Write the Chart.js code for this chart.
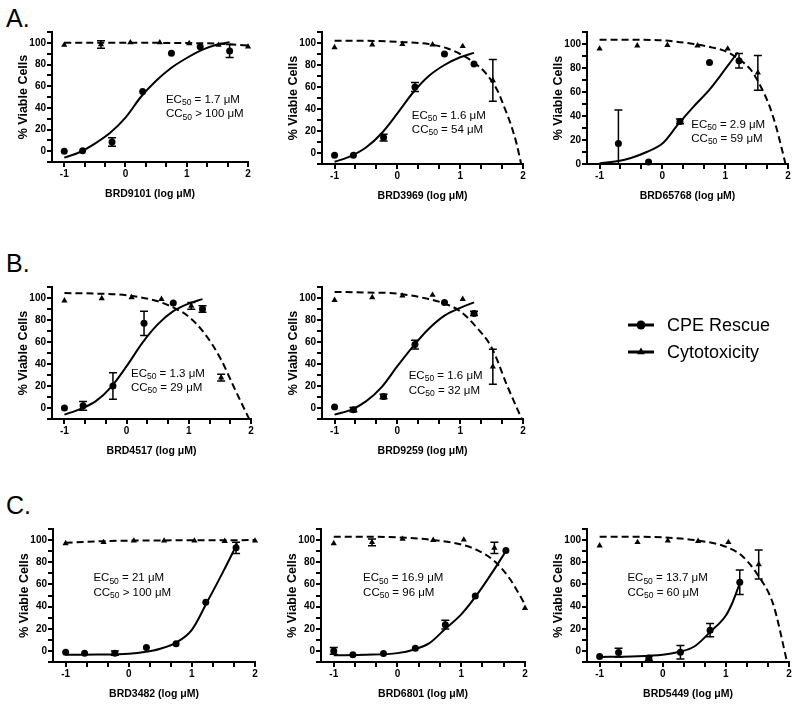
<!DOCTYPE html>
<html>
<head>
<meta charset="utf-8">
<script src="https://cdn.jsdelivr.net/npm/chart.js@4.4.1/dist/chart.umd.min.js"></script>
<style>
	body { margin: 0; background: #fff; }
	#page { position: relative; width: 800px; height: 704px; overflow: hidden; }
	#page canvas { position: absolute; }
	.tag { position: absolute; font: 25px "Liberation Sans", Arial, sans-serif; line-height: 1; color: #000; }
</style>
</head>
<body>
<div id="page">
	<div class="tag" style="left:6px;top:6px">A.</div>
	<div class="tag" style="left:6px;top:251px">B.</div>
	<div class="tag" style="left:6px;top:493px">C.</div>
</div>
<script>
var FONT = '"Liberation Sans", Arial, sans-serif';
var seriesNames = ['CPE Rescue', 'Cytotoxicity'];

// log concentrations of the two dilution series
var xCpe = [-1, -0.7, -0.22, 0.28, 0.75, 1.22, 1.7];
var xTox = [-1, -0.4, 0.08, 0.56, 1.04, 1.52, 2];
var xTicks = [-1, -0.667, -0.333, 0, 0.333, 0.667, 1, 1.333, 1.667, 2];
var yTicks = [-10, 0, 10, 20, 30, 40, 50, 60, 70, 80, 90, 100, 110];

// BRD9101
var brd9101Cpe = [0, 0.5, 8.5, 55, 90.5, 96.5, 92.5];
var brd9101CpeErr = [0, 0, 4, 0, 0, 0, 6];
var brd9101Tox = [98, 98.5, 100.3, 100.3, 99.5, 98, 96.5];
var brd9101ToxErr = [0, 3.5, 0, 0, 0, 0, 0];
var brd9101FitX = [-1, -0.75, -0.5, -0.25, 0, 0.25, 0.5, 0.75, 1, 1.25, 1.5, 1.7];
var brd9101Fit = [-6, -1, 7, 17, 31, 50, 65, 77, 86, 93.5, 98.5, 100.5];
var brd9101ToxFitX = [-1, 0, 1, 1.5, 2];
var brd9101ToxFit = [100, 100, 99.8, 99.2, 97.5];

// BRD3969
var brd3969Cpe = [-2, -2, 14, 60, 90, 81, null];
var brd3969CpeErr = [0, 0, 3, 4, 0, 0, 0];
var brd3969Tox = [96, 98.5, 99, 98.5, 97, 66, null];
var brd3969ToxErr = [0, 0, 0, 0, 0, 19, 0];
var brd3969FitX = [-1, -0.75, -0.5, -0.25, 0, 0.25, 0.5, 0.75, 1, 1.22];
var brd3969Fit = [-8, -3, 5, 18, 36, 55, 70, 80, 87, 91];
var brd3969ToxFitX = [-1, -0.5, 0, 0.5, 0.8, 1, 1.2, 1.4, 1.6, 1.7, 1.8, 1.9, 1.97];
var brd3969ToxFit = [102, 102, 101, 99, 95, 90, 83, 73, 56, 42, 27, 8, -10];

// BRD65768
var brd65768Cpe = [null, 17, 1.6, 35.5, 84.6, 86, null];
var brd65768CpeErr = [0, 28, 0, 2, 0, 6, 0];
var brd65768Tox = [96, 98.6, 99, 98.6, 96, 76, null];
var brd65768ToxErr = [0, 0, 0, 0, 0, 14.5, 0];
var brd65768FitX = [-1, -0.75, -0.5, -0.25, 0, 0.25, 0.5, 0.75, 1, 1.2];
var brd65768Fit = [0.5, 2, 5, 10, 17, 33, 48, 62, 79, 93];
var brd65768ToxFitX = [-1, -0.5, 0, 0.5, 0.8, 1, 1.2, 1.4, 1.5, 1.6, 1.7, 1.8, 1.9, 1.96];
var brd65768ToxFit = [103.5, 103.5, 103, 100, 97, 94, 88, 79, 71, 61, 49, 33, 13, 0];

// BRD4517
var brd4517Cpe = [0, 2, 20, 77, 95.5, 90, null];
var brd4517CpeErr = [0, 4, 12, 11, 0, 3, 0];
var brd4517Tox = [97.6, 99.7, 100.6, 99, 92.8, 27.6, null];
var brd4517ToxErr = [0, 0, 0, 0, 3, 3, 0];
var brd4517FitX = [-1, -0.75, -0.5, -0.25, 0, 0.25, 0.5, 0.75, 1, 1.22];
var brd4517Fit = [-6, -1, 6, 19, 38, 59, 76, 88, 95, 99];
var brd4517ToxFitX = [-1, -0.5, 0, 0.5, 0.8, 1, 1.25, 1.5, 1.75, 1.97];
var brd4517ToxFit = [104.5, 104, 102.5, 97, 90, 83, 68, 46, 16, -10];

// BRD9259
var brd9259Cpe = [1, -1.5, 10.5, 57.7, 96, 86, null];
var brd9259CpeErr = [0, 2, 2, 4, 0, 2, 0];
var brd9259Tox = [98, 100.6, 102, 102.7, 99, 37.5, null];
var brd9259ToxErr = [0, 0, 0, 0, 0, 16, 0];
var brd9259FitX = [-1, -0.75, -0.5, -0.25, 0, 0.25, 0.5, 0.75, 1, 1.22];
var brd9259Fit = [-6, -2, 6, 19, 38, 56, 72, 84, 91, 96];
var brd9259ToxFitX = [-1, -0.5, 0, 0.5, 0.75, 1, 1.25, 1.5, 1.75, 1.98];
var brd9259ToxFit = [105.5, 105, 104, 99, 95, 88, 74, 55, 20, -10];

// BRD3482
var brd3482Cpe = [-1.2, -2, -2, 3, 6.5, 44, 93];
var brd3482CpeErr = [0, 0, 2, 0, 0, 0, 5];
var brd3482Tox = [97, 98, 99.4, 99.4, 99.4, 99, 99.4];
var brd3482ToxErr = [0, 0, 0, 0, 0, 0, 0];
var brd3482FitX = [-1, -0.5, 0, 0.25, 0.5, 0.75, 1, 1.25, 1.5, 1.72];
var brd3482Fit = [-3.5, -3.3, -2.5, -1, 2, 7.5, 19, 45, 72, 97];
var brd3482ToxFitX = [-1, -0.5, 0, 1, 2];
var brd3482ToxFit = [97.5, 98.8, 99.5, 99.8, 100];

// BRD6801
var brd6801Cpe = [0, -3.5, -2.4, 2.4, 23.7, 49.5, 90.5];
var brd6801CpeErr = [3, 0, 0, 0, 4, 0, 0];
var brd6801Tox = [97, 98, 101, 100, 100.3, 93, 38.6];
var brd6801ToxErr = [0, 3, 0, 0, 0, 5, 0];
var brd6801FitX = [-1, -0.5, 0, 0.25, 0.5, 0.75, 1, 1.25, 1.5, 1.7];
var brd6801Fit = [-4, -3.5, -2, 1, 7, 20, 33, 51, 72, 90];
var brd6801ToxFitX = [-1, -0.5, 0, 0.5, 1, 1.25, 1.5, 1.75, 2];
var brd6801ToxFit = [103, 103, 102.5, 100.5, 96, 91, 82, 66, 42];

// BRD5449
var brd5449Cpe = [-5, -1.5, -6.5, -1.2, 18.7, 62, null];
var brd5449CpeErr = [0, 4, 2, 6, 6, 11, 0];
var brd5449Tox = [95, 98, 99.4, 99, 98, 78, null];
var brd5449ToxErr = [0, 0, 0, 0, 0, 13, 0];
var brd5449FitX = [-1, -0.5, 0, 0.25, 0.5, 0.75, 1, 1.1, 1.22];
var brd5449Fit = [-5.5, -5, -3.5, -1, 4, 17, 32, 43, 61];
var brd5449ToxFitX = [-1, -0.5, 0, 0.5, 1, 1.25, 1.5, 1.75, 1.97];
var brd5449ToxFit = [103, 103, 102.5, 100, 94, 86, 69, 42, -10];

var Y_AXIS_W = 36, X_AXIS_H = 38, PAD_TOP = 6, TICK_LEN = 5;

function pts(xs, ys) {
	return xs.map(function (x, i) { return { x: x, y: ys[i] }; });
}

// tick marks at every scale tick (minor ticks carry no label)
function tickMarkPlugin() {
	return {
		id: 'tickMarks',
		afterDraw: function (chart) {
			var ctx = chart.ctx, area = chart.chartArea, sx = chart.scales.x, sy = chart.scales.y;
			ctx.save();
			ctx.strokeStyle = '#000';
			ctx.lineWidth = 2;
			ctx.beginPath();
			sx.ticks.forEach(function (t) {
				var px = Math.round(sx.getPixelForValue(t.value));
				ctx.moveTo(px, area.bottom); ctx.lineTo(px, area.bottom + TICK_LEN);
			});
			sy.ticks.forEach(function (t) {
				var py = Math.round(sy.getPixelForValue(t.value));
				ctx.moveTo(area.left, py); ctx.lineTo(area.left - TICK_LEN, py);
			});
			ctx.stroke();
			ctx.restore();
		}
	};
}

function errorBarPlugin() {
	return {
		id: 'errorBars',
		afterDatasetsDraw: function (chart) {
			var ctx = chart.ctx, area = chart.chartArea, ys = chart.scales.y;
			ctx.save();
			ctx.beginPath();
			ctx.rect(area.left, area.top, area.right - area.left, area.bottom - area.top);
			ctx.clip();
			ctx.strokeStyle = '#000';
			ctx.lineWidth = 1.5;
			chart.data.datasets.forEach(function (ds, i) {
				if (!ds.errors) return;
				var meta = chart.getDatasetMeta(i);
				meta.data.forEach(function (el, j) {
					var v = ds.data[j].y, e = ds.errors[j];
					if (v == null || !e) return;
					var top = ys.getPixelForValue(v + e), bot = ys.getPixelForValue(v - e);
					ctx.beginPath();
					ctx.moveTo(el.x, top); ctx.lineTo(el.x, bot);
					ctx.moveTo(el.x - 4, top); ctx.lineTo(el.x + 4, top);
					ctx.moveTo(el.x - 4, bot); ctx.lineTo(el.x + 4, bot);
					ctx.stroke();
				});
			});
			ctx.restore();
		}
	};
}

// EC50 / CC50 text, subscript drawn smaller and lower
function ecTextPlugin(p) {
	return {
		id: 'ecText',
		afterDraw: function (chart) {
			var ctx = chart.ctx;
			var x0 = chart.scales.x.getPixelForValue(p.textX),
				y0 = chart.scales.y.getPixelForValue(p.textY);
			ctx.save();
			ctx.fillStyle = '#000';
			ctx.textBaseline = 'middle';
			p.text.forEach(function (ln, k) {
				var x = x0, y = y0 + k * 14.5;
				ctx.font = '11.5px ' + FONT;
				ctx.fillText(ln[0], x, y);
				x += ctx.measureText(ln[0]).width;
				ctx.font = '8.5px ' + FONT;
				ctx.fillText(ln[1], x, y + 3);
				x += ctx.measureText(ln[1]).width;
				ctx.font = '11.5px ' + FONT;
				ctx.fillText(ln[2], x, y);
			});
			ctx.restore();
		}
	};
}

function legendPlugin(lx, ly) {
	return {
		id: 'curveLegend',
		afterDraw: function (chart) {
			var ctx = chart.ctx;
			ctx.save();
			chart.data.datasets.forEach(function (ds) {
				if (ds.legendRow == null) return;
				var y = ly + ds.legendRow * 27;
				ctx.strokeStyle = '#000';
				ctx.lineWidth = 3;
				ctx.beginPath();
				ctx.moveTo(lx, y); ctx.lineTo(lx + 26, y);
				ctx.stroke();
				ctx.fillStyle = '#000';
				Chart.helpers.drawPoint(ctx, { pointStyle: ds.pointStyle, radius: 4.5, borderWidth: 0, rotation: 0 }, lx + 13, y);
				ctx.fillStyle = '#000';
				ctx.font = '18px ' + FONT;
				ctx.textBaseline = 'middle';
				ctx.fillText(ds.label, lx + 39, y + 1);
			});
			ctx.restore();
		}
	};
}

function makePanel(p) {
	var padRight = p.padRight || 8;
	var canvas = document.createElement('canvas');
	canvas.width = p.right - p.left + Y_AXIS_W + padRight;
	canvas.height = p.bottom - p.top + PAD_TOP + X_AXIS_H;
	canvas.style.left = (p.left - Y_AXIS_W) + 'px';
	canvas.style.top = (p.top - PAD_TOP) + 'px';
	document.getElementById('page').appendChild(canvas);

	var plugins = [tickMarkPlugin(), errorBarPlugin(), ecTextPlugin(p)];
	if (p.legend) {
		plugins.push(legendPlugin(p.legend[0] - (p.left - Y_AXIS_W), p.legend[1] - (p.top - PAD_TOP)));
	}

	var tickFont = { family: FONT, size: 10, weight: 'bold' };
	new Chart(canvas.getContext('2d'), {
		type: 'scatter',
		data: {
			datasets: [
				{
					label: seriesNames[0], legendRow: 0, order: 1,
					data: pts(xCpe, p.cpe), errors: p.cpeErr,
					pointStyle: 'circle', pointRadius: 3.5,
					backgroundColor: '#000', borderColor: '#000', borderWidth: 0, clip: 8
				},
				{
					label: seriesNames[1], legendRow: 1, order: 2,
					data: pts(xTox, p.tox), errors: p.toxErr,
					pointStyle: 'triangle', pointRadius: 3.6,
					backgroundColor: '#000', borderColor: '#000', borderWidth: 0, clip: 8
				},
				{
					order: 3, data: pts(p.fitX, p.fit), showLine: true, pointRadius: 0,
					borderColor: '#000', borderWidth: 2, cubicInterpolationMode: 'monotone'
				},
				{
					order: 4, data: pts(p.toxFitX, p.toxFit), showLine: true, pointRadius: 0,
					borderColor: '#000', borderWidth: 2, borderDash: [7, 4], cubicInterpolationMode: 'monotone'
				}
			]
		},
		options: {
			responsive: false,
			animation: false,
			events: [],
			layout: { padding: { top: PAD_TOP, right: padRight, left: 0, bottom: 0 } },
			plugins: { legend: { display: false }, tooltip: { enabled: false } },
			scales: {
				x: {
					type: 'linear', min: -1.2, max: 2,
					afterFit: function (s) { s.height = X_AXIS_H; },
					afterBuildTicks: function (s) { s.ticks = xTicks.map(function (v) { return { value: v }; }); },
					border: { display: true, color: '#000', width: 2 },
					grid: {
						display: true, drawOnChartArea: false, drawTicks: true, tickLength: TICK_LEN,
						lineWidth: 2, tickWidth: 2, color: '#000', tickColor: '#000'
					},
					ticks: {
						autoSkip: false, maxRotation: 0, padding: 1, color: '#000', font: tickFont,
						callback: function (v) { return Math.abs(v - Math.round(v)) < 1e-6 ? Math.round(v) : ''; }
					},
					title: {
						display: true, text: p.name + ' (log μM)', color: '#000',
						font: { family: FONT, size: 10.5, weight: 'bold' }, padding: { top: 0, bottom: 0 }
					}
				},
				y: {
					type: 'linear', min: p.ymin, max: 110,
					afterFit: function (s) { s.width = Y_AXIS_W; },
					afterBuildTicks: function (s) {
						s.ticks = yTicks.filter(function (v) { return v >= p.ymin; }).map(function (v) { return { value: v }; });
					},
					border: { display: true, color: '#000', width: 2 },
					grid: {
						display: true, drawOnChartArea: false, drawTicks: true, tickLength: TICK_LEN,
						lineWidth: 2, tickWidth: 2, color: '#000', tickColor: '#000'
					},
					ticks: {
						autoSkip: false, padding: 1, color: '#000', font: tickFont,
						callback: function (v) { return v % 20 === 0 ? v : ''; }
					},
					title: {
						display: true, text: '% Viable Cells', color: '#000',
						font: { family: FONT, size: 12.5, weight: 'bold' }, padding: { top: 0, bottom: 0 }
					}
				}
			}
		},
		plugins: plugins
	});
}

makePanel({
	name: 'BRD9101', left: 52, right: 248, top: 31, bottom: 162, ymin: -10,
	cpe: brd9101Cpe, cpeErr: brd9101CpeErr, tox: brd9101Tox, toxErr: brd9101ToxErr,
	fitX: brd9101FitX, fit: brd9101Fit, toxFitX: brd9101ToxFitX, toxFit: brd9101ToxFit,
	textX: 0.66, textY: 47.5, text: [['EC', '50', ' = 1.7 μM'], ['CC', '50', ' > 100 μM']]
});
makePanel({
	name: 'BRD3969', left: 322, right: 523, top: 31, bottom: 164, ymin: -10,
	cpe: brd3969Cpe, cpeErr: brd3969CpeErr, tox: brd3969Tox, toxErr: brd3969ToxErr,
	fitX: brd3969FitX, fit: brd3969Fit, toxFitX: brd3969ToxFitX, toxFit: brd3969ToxFit,
	textX: 0.23, textY: 34, text: [['EC', '50', ' = 1.6 μM'], ['CC', '50', ' = 54 μM']]
});
makePanel({
	name: 'BRD65768', left: 587, right: 788, top: 31, bottom: 164, ymin: 0,
	cpe: brd65768Cpe, cpeErr: brd65768CpeErr, tox: brd65768Tox, toxErr: brd65768ToxErr,
	fitX: brd65768FitX, fit: brd65768Fit, toxFitX: brd65768ToxFitX, toxFit: brd65768ToxFit,
	textX: 0.46, textY: 33, text: [['EC', '50', ' = 2.9 μM'], ['CC', '50', ' = 59 μM']]
});
makePanel({
	name: 'BRD4517', left: 52, right: 251, top: 286, bottom: 419, ymin: -10,
	cpe: brd4517Cpe, cpeErr: brd4517CpeErr, tox: brd4517Tox, toxErr: brd4517ToxErr,
	fitX: brd4517FitX, fit: brd4517Fit, toxFitX: brd4517ToxFitX, toxFit: brd4517ToxFit,
	textX: 0.07, textY: 31.5, text: [['EC', '50', ' = 1.3 μM'], ['CC', '50', ' = 29 μM']]
});
makePanel({
	name: 'BRD9259', left: 322, right: 523, top: 286, bottom: 419, ymin: -10, padRight: 277,
	cpe: brd9259Cpe, cpeErr: brd9259CpeErr, tox: brd9259Tox, toxErr: brd9259ToxErr,
	fitX: brd9259FitX, fit: brd9259Fit, toxFitX: brd9259ToxFitX, toxFit: brd9259ToxFit,
	textX: 0.18, textY: 29, text: [['EC', '50', ' = 1.6 μM'], ['CC', '50', ' = 32 μM']],
	legend: [628, 325]
});
makePanel({
	name: 'BRD3482', left: 53, right: 255, top: 528, bottom: 662, ymin: -10,
	cpe: brd3482Cpe, cpeErr: brd3482CpeErr, tox: brd3482Tox, toxErr: brd3482ToxErr,
	fitX: brd3482FitX, fit: brd3482Fit, toxFitX: brd3482ToxFitX, toxFit: brd3482ToxFit,
	textX: -0.56, textY: 65.5, text: [['EC', '50', ' = 21 μM'], ['CC', '50', ' > 100 μM']]
});
makePanel({
	name: 'BRD6801', left: 321, right: 525, top: 528, bottom: 662, ymin: -10,
	cpe: brd6801Cpe, cpeErr: brd6801CpeErr, tox: brd6801Tox, toxErr: brd6801ToxErr,
	fitX: brd6801FitX, fit: brd6801Fit, toxFitX: brd6801ToxFitX, toxFit: brd6801ToxFit,
	textX: -0.54, textY: 65.5, text: [['EC', '50', ' = 16.9 μM'], ['CC', '50', ' = 96 μM']]
});
makePanel({
	name: 'BRD5449', left: 587, right: 789, top: 528, bottom: 662, ymin: -10,
	cpe: brd5449Cpe, cpeErr: brd5449CpeErr, tox: brd5449Tox, toxErr: brd5449ToxErr,
	fitX: brd5449FitX, fit: brd5449Fit, toxFitX: brd5449ToxFitX, toxFit: brd5449ToxFit,
	textX: -0.56, textY: 65.5, text: [['EC', '50', ' = 13.7 μM'], ['CC', '50', ' = 60 μM']]
});
</script>
</body>
</html>
